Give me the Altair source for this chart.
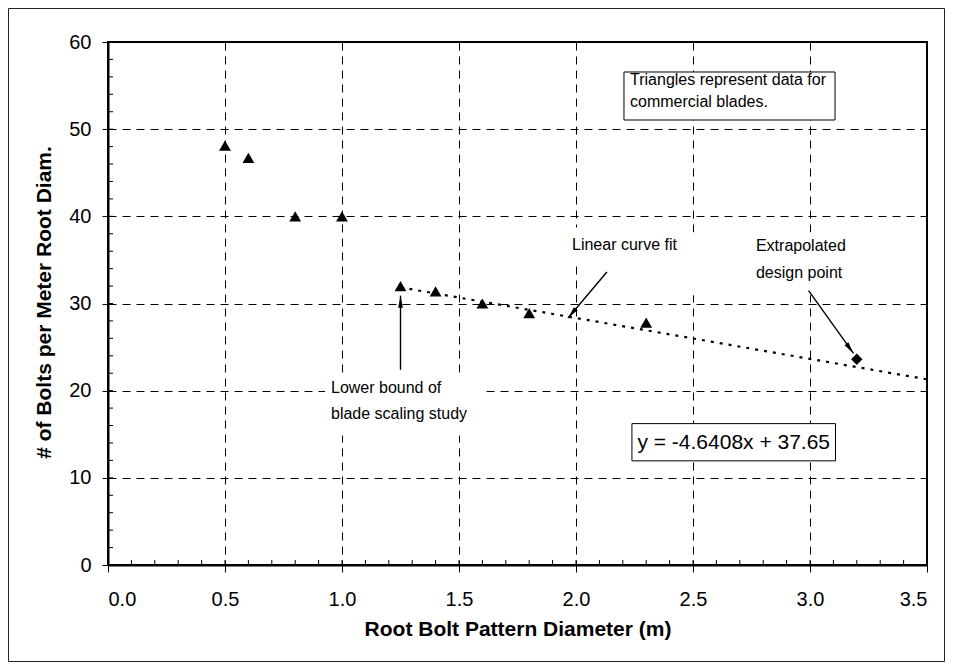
import altair as alt
import pandas as pd

# ---- data ----
tri_x = [0.5, 0.6, 0.8, 1.0, 1.25, 1.4, 1.6, 1.8, 2.3]
tri_y = [48.1, 46.7, 40.0, 40.0, 32.0, 31.4, 30.0, 28.9, 27.8]

design_x = [3.2]
design_y = [23.6]

fit_x = [1.25, 3.5]
fit_y = [31.85, 21.3]

x_ticks = [0.0, 0.5, 1.0, 1.5, 2.0, 2.5, 3.0, 3.5]
y_ticks = [0, 10, 20, 30, 40, 50, 60]
x_minor = [0.0, 0.1, 0.2, 0.3, 0.4, 0.5, 0.6, 0.7, 0.8, 0.9, 1.0, 1.1, 1.2, 1.3, 1.4, 1.5, 1.6, 1.7,
           1.8, 1.9, 2.0, 2.1, 2.2, 2.3, 2.4, 2.5, 2.6, 2.7, 2.8, 2.9, 3.0, 3.1, 3.2, 3.3, 3.4, 3.5]
y_minor = [0, 2, 4, 6, 8, 10, 12, 14, 16, 18, 20, 22, 24, 26, 28, 30, 32, 34, 36, 38, 40,
           42, 44, 46, 48, 50, 52, 54, 56, 58, 60]

note_texts = ["Triangles represent data for", "commercial blades.", "Linear curve fit",
              "Extrapolated", "design point", "Lower bound of", "blade scaling study"]
note_x = [2.231, 2.231, 1.983, 2.769, 2.769, 0.953, 0.953]
note_y = [55.07, 52.54, 36.14, 36.02, 32.92, 19.73, 16.75]

eq_text = ["y = -4.6408x + 37.65"]
eq_x = [2.674]
eq_y = [13.35]

# white text backgrounds (bordered or not)
box_x1 = [2.205, 2.239, 0.93, 1.953, 2.48]
box_x2 = [3.107, 3.109, 1.60, 2.466, 3.22]
box_y1 = [51.05, 11.95, 14.9, 34.76, 31.0]
box_y2 = [56.56, 16.22, 21.4, 38.66, 38.1]
box_border = [1, 1, 0, 0, 0]

arrow_x1 = [1.25, 2.132, 2.994]
arrow_y1 = [22.4, 33.61, 31.47]
arrow_x2 = [1.25, 1.966, 3.186]
arrow_y2 = [30.9, 28.34, 24.27]
arrow_angle = [0, 220, 144]

# ---- frames ----
tri_df = pd.DataFrame({"x": tri_x, "y": tri_y})
des_df = pd.DataFrame({"x": design_x, "y": design_y})
fit_df = pd.DataFrame({"x": fit_x, "y": fit_y})
xm_df = pd.DataFrame({"x": x_minor})
ym_df = pd.DataFrame({"y": y_minor})
note_df = pd.DataFrame({"x": note_x, "y": note_y, "t": note_texts})
eq_df = pd.DataFrame({"x": eq_x, "y": eq_y, "t": eq_text})
box_df = pd.DataFrame({"x": box_x1, "x2": box_x2, "y": box_y1, "y2": box_y2, "b": box_border})
arr_df = pd.DataFrame({"x": arrow_x1, "y": arrow_y1, "x2": arrow_x2, "y2": arrow_y2, "a": arrow_angle})

FONT = "Liberation Sans"
xs = alt.Scale(domain=[0, 3.5], nice=False, zero=False)
ys = alt.Scale(domain=[0, 60], nice=False, zero=False)

x_axis = alt.Axis(values=x_ticks, format=".1f", tickSize=7, labelPadding=17, grid=True,
                  title="Root Bolt Pattern Diameter (m)", titleX=409.5, titleY=70,
                  titleAlign="center", titleBaseline="alphabetic")
y_axis = alt.Axis(values=y_ticks, tickSize=6, labelPadding=11, grid=True,
                  title="# of Bolts per Meter Root Diam.", titleAngle=270, titleX=-58, titleY=260,
                  titleAlign="center", titleBaseline="alphabetic")

X = alt.X("x:Q", scale=xs, axis=x_axis)
Y = alt.Y("y:Q", scale=ys, axis=y_axis)

frame = alt.Chart(pd.DataFrame({"k": [0]})).mark_rect(
    fillOpacity=0, stroke="#222222", strokeWidth=1
).encode(x=alt.value(-99.5), x2=alt.value(836.5), y=alt.value(-33.5), y2=alt.value(619.5))

boxes = alt.Chart(box_df).mark_rect(fill="white", strokeWidth=1).encode(
    x=X, x2="x2:Q", y=Y, y2="y2:Q",
    stroke=alt.condition("datum.b == 1", alt.value("black"), alt.value("white")),
)

xminor = alt.Chart(xm_df).mark_rule(color="black", strokeWidth=1).encode(
    x=X, y=alt.value(523), y2=alt.value(518))
yminor = alt.Chart(ym_df).mark_rule(color="black", strokeWidth=1).encode(
    y=Y, x=alt.value(0), x2=alt.value(5))

fit = alt.Chart(fit_df).mark_line(color="black", strokeWidth=2.2, strokeDash=[3, 6],
                                  strokeCap="butt").encode(x=X, y=Y)

tris = alt.Chart(tri_df).mark_point(shape="triangle-up", filled=True, size=140,
                                    color="black", opacity=1).encode(x=X, y=Y)
dia = alt.Chart(des_df).mark_point(shape="diamond", filled=True, size=130,
                                   color="black", opacity=1).encode(x=X, y=Y)

arrows = alt.Chart(arr_df).mark_rule(color="black", strokeWidth=1.4).encode(
    x=X, y=Y, x2="x2:Q", y2="y2:Q")
heads = alt.Chart(arr_df).mark_point(shape="M0,0L-0.4,2L0.4,2Z", filled=True, size=144,
                                     color="black", opacity=1).encode(
    x=alt.X("x2:Q", scale=xs), y=alt.Y("y2:Q", scale=ys), angle=alt.Angle("a:Q", scale=None))

notes = alt.Chart(note_df).mark_text(font=FONT, fontSize=16, align="left",
                                     baseline="alphabetic", color="black").encode(
    x=X, y=Y, text="t:N")
eq = alt.Chart(eq_df).mark_text(font=FONT, fontSize=21, align="center",
                                baseline="alphabetic", color="black").encode(
    x=X, y=Y, text="t:N")

chart = alt.layer(
    boxes, xminor, yminor, fit, tris, dia, arrows, heads, notes, eq, frame
).properties(
    width=819, height=523,
    autosize=alt.AutoSizeParams(type="none"),
    padding={"left": 100, "top": 34, "right": 18, "bottom": 97},
    background="white",
).configure_view(
    stroke="black", strokeWidth=2
).configure_axis(
    domainColor="black", domainWidth=2, tickColor="black", tickWidth=1,
    gridColor="black", gridDash=[8, 6], gridWidth=1, gridOpacity=1,
    labelFont=FONT, labelFontSize=20, labelColor="black",
    titleFont=FONT, titleFontSize=21, titleFontWeight="bold", titleColor="black",
)

chart.save("out.html", embed_options={"renderer": "svg", "actions": False})
